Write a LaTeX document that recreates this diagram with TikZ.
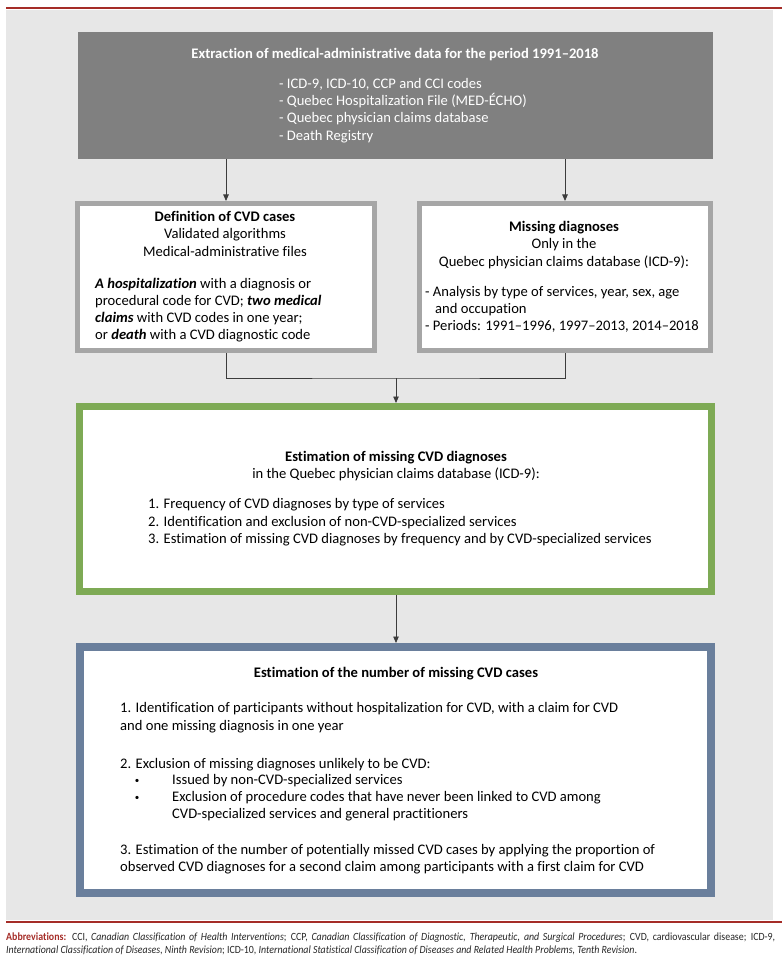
\documentclass[tikz,border=0pt]{standalone}
\usepackage{fontspec}
\setmainfont{Carlito}[Ligatures={NoCommon}]
\newfontfamily\notefont[FakeStretch=0.9, Ligatures={NoCommon}]{Carlito}
\usetikzlibrary{arrows.meta}

\definecolor{pagegray}{RGB}{231,231,231}
\definecolor{darkbox}{RGB}{128,128,128}
\definecolor{boxgray}{RGB}{166,166,166}
\definecolor{boxgreen}{RGB}{126,170,85}
\definecolor{boxblue}{RGB}{106,127,156}
\definecolor{rulered}{RGB}{165,45,40}
\definecolor{linegray}{RGB}{60,60,60}

\begin{document}
\begin{tikzpicture}[x=1pt, y=-1pt,
  box/.style={fill=white, inner sep=0pt},
  txt/.style={inner sep=0pt, font=\fontsize{14.6}{17.3}\selectfont},
  arr/.style={draw=linegray, line width=0.8pt, -{Triangle[length=6.5pt, width=5.5pt]}}]
\useasboundingbox (0,0) rectangle (782,965);

% Page background and rules
\fill[pagegray] (6,10) rectangle (773,920);
\draw[rulered, line width=2pt] (6,8) -- (782,8);
\draw[rulered, line width=2pt] (6,922) -- (782,922);

% Boxes
\node[fill=darkbox, inner sep=0pt, minimum width=635pt, minimum height=127pt] (extract) at (395.5,95.5) {};
\node[box, draw=boxgray, line width=5pt, minimum width=297pt, minimum height=147pt] (defbox) at (226,277) {};
\node[box, draw=boxgray, line width=5pt, minimum width=291pt, minimum height=147pt] (missbox) at (565,277) {};
\node[box, draw=boxgreen, line width=7pt, minimum width=632pt, minimum height=185pt] (estbox) at (395.5,499) {};
\node[box, draw=boxblue, line width=8pt, minimum width=631pt, minimum height=246pt] (countbox) at (395.5,770) {};

% Connectors
\coordinate (join) at (396,378);
\draw[arr] (extract.south -| defbox.north) -- (defbox.north);
\draw[arr] (extract.south -| missbox.north) -- (missbox.north);
\draw[draw=linegray, line width=0.8pt] (defbox.south) |- (join) -| (missbox.south);
\draw[arr] (join) -- (estbox.north -| join);
\draw[arr] (estbox.south -| join) -- (countbox.north -| join);

% Extraction text
\node[txt, text=white, font=\fontsize{14.6}{17.3}\selectfont\bfseries] (extitle) at (395,55) {Extraction of medical-administrative data for the period 1991--2018};
\node[txt, text=white, align=left, anchor=north west] (exlist) at (279,78) {- ICD-9, ICD-10, CCP and CCI codes\\- Quebec Hospitalization File (MED-ÉCHO)\\- Quebec physician claims database\\- Death Registry};

% Definition of CVD cases
\node[txt, align=center, anchor=north] (deftitle) at (225,211) {\textbf{Definition of CVD cases}\\Validated algorithms\\Medical-administrative files};
\node[txt, align=left, anchor=north west, font=\fontsize{14.6}{17}\selectfont] (defbody) at (95,278) {\textbf{\textit{A hospitalization}} with a diagnosis or\\procedural code for CVD; \textbf{\textit{two medical}}\\\textbf{\textit{claims}} with CVD codes in one year;\\or \textbf{\textit{death}} with a CVD diagnostic code};

% Missing diagnoses
\node[txt, align=center, anchor=north] (misstitle) at (564,221) {\textbf{Missing diagnoses}\\Only in the\\Quebec physician claims database (ICD-9):};
\node[txt, align=left, anchor=north west] (missbody) at (425,286) {- Analysis by type of services, year, sex, age\\\hspace*{10pt}and occupation\\- Periods: 1991--1996, 1997--2013, 2014--2018};

% Estimation of missing CVD diagnoses
\node[txt, align=center, anchor=north] (esttitle) at (396,451) {\textbf{Estimation of missing CVD diagnoses}\\in the Quebec physician claims database (ICD-9):};
\node[txt, align=left, anchor=north west, font=\fontsize{14.6}{17.8}\selectfont] (estlist) at (148,498) {1. Frequency of CVD diagnoses by type of services\\2. Identification and exclusion of non-CVD-specialized services\\3. Estimation of missing CVD diagnoses by frequency and by CVD-specialized services};

% Estimation of the number of missing CVD cases
\node[txt, font=\fontsize{14.6}{17.3}\selectfont\bfseries] (counttitle) at (396,674) {Estimation of the number of missing CVD cases};
\node[txt, align=left, anchor=north west, font=\fontsize{14.6}{18}\selectfont] (stepa) at (120,702) {1. Identification of participants without hospitalization for CVD, with a claim for CVD\\and one missing diagnosis in one year};
\node[txt, anchor=north west] (stepb) at (120,758) {2. Exclusion of missing diagnoses unlikely to be CVD:};
\node[txt, font=\fontsize{9}{12}\selectfont] (dota) at (137,781) {\textbullet};
\node[txt, anchor=north west] (bulleta) at (172,774) {Issued by non-CVD-specialized services};
\node[txt, font=\fontsize{9}{12}\selectfont] (dotb) at (137,798) {\textbullet};
\node[txt, align=left, anchor=north west] (bulletb) at (172,791) {Exclusion of procedure codes that have never been linked to CVD among\\CVD-specialized services and general practitioners};
\node[txt, align=left, anchor=north west] (stepc) at (120,844) {3. Estimation of the number of potentially missed CVD cases by applying the proportion of\\observed CVD diagnoses for a second claim among participants with a first claim for CVD};

% Abbreviations
\node[inner sep=0pt, anchor=north west, text width=769pt, align=justify, text=black!85,
  font=\notefont\fontsize{11}{13}\selectfont] (abbrev) at (6,933)
  {\textcolor{rulered}{\textbf{Abbreviations:}} CCI, \textit{Canadian Classification of Health Interventions}; CCP, \textit{Canadian Classification of Diagnostic, Therapeutic, and Surgical Procedures}; CVD, cardiovascular disease; ICD-9,\linebreak \textit{International Classification of Diseases, Ninth Revision}; ICD-10, \textit{International Statistical Classification of Diseases and Related Health Problems, Tenth Revision}.};
\end{tikzpicture}
\end{document}
